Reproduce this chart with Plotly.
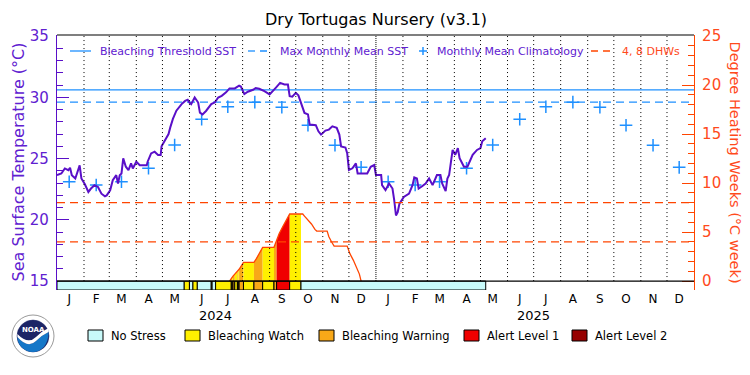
import plotly.graph_objects as go
import pandas as pd

# ---------------- data ----------------
sst_dates = [
    "2024-01-01", "2024-01-06", "2024-01-10", "2024-01-14", "2024-01-16", "2024-01-18", "2024-01-22",
    "2024-01-25", "2024-01-27", "2024-01-29", "2024-02-02", "2024-02-06", "2024-02-09", "2024-02-13",
    "2024-02-17", "2024-02-21", "2024-02-25", "2024-02-27", "2024-03-02", "2024-03-05", "2024-03-09",
    "2024-03-11", "2024-03-13", "2024-03-15", "2024-03-17", "2024-03-20", "2024-03-23", "2024-03-26",
    "2024-03-28", "2024-04-01", "2024-04-05", "2024-04-13", "2024-04-14", "2024-04-18", "2024-04-22",
    "2024-04-26", "2024-04-29", "2024-04-30", "2024-05-04", "2024-05-08", "2024-05-10", "2024-05-13",
    "2024-05-17", "2024-05-23", "2024-05-27", "2024-05-30", "2024-06-01", "2024-06-03", "2024-06-07",
    "2024-06-11", "2024-06-13", "2024-06-16", "2024-06-20", "2024-06-26", "2024-06-30", "2024-07-04",
    "2024-07-08", "2024-07-13", "2024-07-17", "2024-07-23", "2024-07-28", "2024-07-30", "2024-08-03",
    "2024-08-07", "2024-08-13", "2024-08-16", "2024-08-20", "2024-08-26", "2024-09-01", "2024-09-05",
    "2024-09-08", "2024-09-13", "2024-09-18", "2024-09-22", "2024-09-24", "2024-09-27", "2024-10-01",
    "2024-10-04", "2024-10-07", "2024-10-11", "2024-10-15", "2024-10-17", "2024-10-24", "2024-10-27",
    "2024-10-30", "2024-11-04", "2024-11-08", "2024-11-12", "2024-11-17", "2024-11-20", "2024-11-22",
    "2024-11-27", "2024-11-29", "2024-12-01", "2024-12-05", "2024-12-09", "2024-12-11", "2024-12-22",
    "2024-12-26", "2024-12-30", "2025-01-01", "2025-01-07", "2025-01-08", "2025-01-12", "2025-01-16",
    "2025-01-20", "2025-01-22", "2025-01-24", "2025-01-26", "2025-01-28", "2025-02-02", "2025-02-08",
    "2025-02-12", "2025-02-14", "2025-02-17", "2025-02-19", "2025-02-23", "2025-02-27", "2025-03-03",
    "2025-03-07", "2025-03-12", "2025-03-16", "2025-03-18", "2025-03-22", "2025-03-24", "2025-03-26",
    "2025-03-30", "2025-04-02", "2025-04-05", "2025-04-07", "2025-04-12", "2025-04-16", "2025-04-22",
    "2025-04-27", "2025-05-01", "2025-05-03", "2025-05-07",
]
sst_values = [
    23.64, 23.78, 24.19, 24.05, 24.24, 23.64, 23.37,
    24.05, 24.44, 23.37, 22.90, 22.27, 22.55, 22.82,
    22.68, 22.13, 21.91, 21.99, 22.41, 23.23, 23.64,
    22.96, 23.64, 23.78, 25.01, 24.33, 24.05, 24.60,
    24.19, 24.74, 24.46, 24.46, 24.74, 25.42, 25.56,
    25.29, 25.29, 26.00, 26.45, 27.00, 27.54, 28.23,
    28.90, 29.44, 29.70, 29.80, 29.57, 29.44, 29.98,
    29.57, 28.74, 28.60, 28.88, 29.44, 29.57, 29.98,
    30.12, 30.40, 30.72, 30.72, 30.94, 30.88, 30.26,
    30.45, 30.61, 30.75, 30.69, 30.50, 30.23, 30.50,
    30.77, 31.17, 31.04, 31.04, 30.09, 30.04, 30.36,
    30.15, 29.54, 28.72, 28.60, 27.77, 27.72, 27.22,
    26.95, 27.28, 27.36, 27.63, 27.50, 26.95, 25.99,
    25.90, 25.44, 24.07, 24.20, 24.60, 23.78, 23.78,
    24.33, 24.47, 23.65, 23.65, 22.83, 22.42, 22.96,
    22.55, 21.59, 20.35, 20.63, 21.32, 21.87, 22.14,
    22.83, 23.46, 23.37, 22.55, 22.74, 22.96, 23.37,
    22.83, 23.65, 23.65, 22.96, 22.34, 23.37, 23.65,
    25.70, 25.30, 25.85, 25.03, 24.33, 24.33, 25.30,
    25.70, 25.85, 26.40, 26.66,
]

clim_years = [2024, 2025]
clim_months = [1, 2, 3, 4, 5, 6, 7, 8, 9, 10, 11, 12]
clim_values = [23.11, 22.84, 23.11, 24.20, 26.10, 28.20, 29.23, 29.60, 29.18, 27.72, 26.08, 24.28]

mmm_sst = 29.60
threshold_sst = 30.60
dhw_levels = [4, 8]

dhw_dates = [
    "2024-07-17", "2024-07-19", "2024-07-20", "2024-07-21", "2024-07-23", "2024-07-26", "2024-07-27",
    "2024-07-28", "2024-08-02", "2024-08-14", "2024-08-17", "2024-08-20", "2024-08-24", "2024-09-06",
    "2024-09-09", "2024-09-12", "2024-09-16", "2024-09-20", "2024-09-24", "2024-10-07", "2024-10-09",
    "2024-10-11", "2024-10-15", "2024-10-19", "2024-10-23", "2024-10-25", "2024-11-06", "2024-11-08",
    "2024-11-11", "2024-11-14", "2024-11-29", "2024-12-02", "2024-12-06", "2024-12-10", "2024-12-13",
    "2024-12-15",
]
dhw_values = [
    0.00, 0.30, 0.40, 0.50, 0.70, 0.95, 1.05,
    1.20, 1.90, 1.90, 2.31, 2.82, 3.44, 3.44,
    4.12, 4.86, 5.54, 6.22, 6.84, 6.84, 6.84,
    6.63, 6.22, 5.82, 5.27, 5.10, 5.10, 4.52,
    4.01, 3.57, 3.57, 2.82, 2.14, 1.29, 0.71,
    0.00,
]

stress_start = [
    "2024-01-01", "2024-05-26", "2024-06-01", "2024-06-05", "2024-06-10", "2024-06-26", "2024-06-27",
    "2024-07-01", "2024-07-19", "2024-07-20", "2024-07-21", "2024-07-23", "2024-07-26", "2024-07-27",
    "2024-07-28", "2024-08-02", "2024-08-14", "2024-08-24", "2024-09-06", "2024-09-09", "2024-09-24",
    "2024-10-07",
]
stress_end = [
    "2024-05-26", "2024-06-01", "2024-06-05", "2024-06-10", "2024-06-26", "2024-06-27", "2024-07-01",
    "2024-07-19", "2024-07-20", "2024-07-21", "2024-07-23", "2024-07-26", "2024-07-27", "2024-07-28",
    "2024-08-02", "2024-08-14", "2024-08-24", "2024-09-06", "2024-09-09", "2024-09-24", "2024-10-07",
    "2025-05-07",
]
stress_level = [0, 1, 0, 1, 0, 1, 0, 1, 2, 1, 2, 1, 2, 1, 2, 1, 2, 1, 2, 3, 1, 0]

stress_labels = ["No Stress", "Bleaching Watch", "Bleaching Warning", "Alert Level 1", "Alert Level 2"]
month_letters = ["J", "F", "M", "A", "M", "J", "J", "A", "S", "O", "N", "D"]
year_labels = ["2024", "2025"]

# ---------------- styles ----------------
FONT = "DejaVu Sans"
PURPLE = "#5a0fc8"
PURPLE_TXT = "#6020d0"
BLUE = "#1e90ff"
ORANGE = "#ff4500"
ORANGE_TXT = "#ff4a1c"
STRESS_COLORS = ["#c8fafa", "#fff000", "#f8a818", "#f00000", "#960000"]

W, H = 750, 375
L, R, T, B = 57, 694, 35, 290
Y_LO, Y_HI = 14.27, 35.08
Y2_LO, Y2_HI = (Y_LO - 15) * 1.25, (Y_HI - 15) * 1.25


def px(x):
    return (x - L) / (R - L)


def py(y):
    return (B - y) / (B - T)


fig = go.Figure()

# DHW fills coloured by stress level
for s, e, lev in zip(stress_start, stress_end, stress_level):
    if lev == 0:
        continue
    s_t, e_t = pd.Timestamp(s), pd.Timestamp(e)
    xs = [d for d, v in zip(dhw_dates, dhw_values) if s_t <= pd.Timestamp(d) <= e_t]
    ys = [v for d, v in zip(dhw_dates, dhw_values) if s_t <= pd.Timestamp(d) <= e_t]
    if len(xs) < 2:
        continue
    fig.add_trace(go.Scatter(x=xs, y=ys, yaxis="y2", mode="lines", line=dict(width=0),
                             fill="tozeroy", fillcolor=STRESS_COLORS[lev], hoverinfo="skip",
                             showlegend=False))

# DHW line
fig.add_trace(go.Scatter(x=dhw_dates, y=dhw_values, yaxis="y2", mode="lines",
                         line=dict(color=ORANGE, width=1.3), showlegend=False))

# climatology
clim_x = [f"{yr}-{m:02d}-15" for yr in clim_years for m in clim_months]
clim_y = [v for yr in clim_years for v in clim_values]
fig.add_trace(go.Scatter(x=clim_x, y=clim_y, mode="markers",
                         marker=dict(symbol="cross-thin", size=9, line=dict(color=BLUE, width=1.5)),
                         showlegend=False))

# SST line
fig.add_trace(go.Scatter(x=sst_dates, y=sst_values, mode="lines",
                         line=dict(color=PURPLE, width=2), showlegend=False))

shapes = []
# month dotted lines
for d in pd.date_range("2024-02-01", "2025-12-01", freq="MS"):
    dense = (d.month == 1)
    shapes.append(dict(type="line", xref="x", yref="y", x0=d, x1=d, y0=15, y1=Y_HI,
                       line=dict(color="black", width=1, dash="1px,1px" if dense else "1px,3px"),
                       layer="above"))
# threshold / MMM
shapes.append(dict(type="line", xref="paper", yref="y", x0=0, x1=1, y0=threshold_sst, y1=threshold_sst,
                   line=dict(color=BLUE, width=1.3), layer="below"))
shapes.append(dict(type="line", xref="paper", yref="y", x0=0, x1=1, y0=mmm_sst, y1=mmm_sst,
                   line=dict(color=BLUE, width=1.3, dash="8px,5px"), layer="below"))
# DHW 4, 8
for lv in dhw_levels:
    shapes.append(dict(type="line", xref="paper", yref="y2", x0=0, x1=1, y0=lv, y1=lv,
                       line=dict(color=ORANGE, width=1.3, dash="8px,5px"), layer="above"))
# stress bar
for s, e, lev in zip(stress_start, stress_end, stress_level):
    shapes.append(dict(type="rect", xref="x", yref="y", x0=s, x1=e, y0=Y_LO, y1=15,
                       fillcolor=STRESS_COLORS[lev], line=dict(color="black", width=1), layer="above"))
# 15 line and top frame
shapes.append(dict(type="line", xref="paper", yref="y", x0=0, x1=1, y0=15, y1=15,
                   line=dict(color="black", width=1.2), layer="above"))
shapes.append(dict(type="line", xref="paper", yref="paper", x0=0, x1=1, y0=1, y1=1,
                   line=dict(color="black", width=1.2), layer="above"))

annotations = []
# title
annotations.append(dict(text="Dry Tortugas Nursery (v3.1)", x=0.5, y=py(20), xref="paper", yref="paper",
                        showarrow=False, font=dict(family=FONT, size=16, color="black"),
                        xanchor="center", yanchor="middle"))
# axis titles
annotations.append(dict(text="Sea Surface Temperature (°C)", x=px(18), y=0.5, xref="paper", yref="paper",
                        showarrow=False, textangle=-90, font=dict(family=FONT, size=16, color=PURPLE_TXT),
                        xanchor="center", yanchor="middle"))
annotations.append(dict(text="Degree Heating Weeks (°C week)", x=px(735), y=0.5, xref="paper", yref="paper",
                        showarrow=False, textangle=90, font=dict(family=FONT, size=14.5, color=ORANGE_TXT),
                        xanchor="center", yanchor="middle"))
# year labels
for yr in year_labels:
    annotations.append(dict(text=yr, x=f"{yr}-07-01", y=py(315), xref="x", yref="paper", showarrow=False,
                            font=dict(family=FONT, size=13, color="black"), xanchor="center", yanchor="middle"))

# top legend
LEG_Y = 51
shapes.append(dict(type="line", xref="paper", yref="paper", x0=px(70), x1=px(91), y0=py(LEG_Y), y1=py(LEG_Y),
                   line=dict(color=BLUE, width=1.3)))
shapes.append(dict(type="line", xref="paper", yref="paper", x0=px(248), x1=px(272), y0=py(LEG_Y), y1=py(LEG_Y),
                   line=dict(color=BLUE, width=1.3, dash="7px,5px")))
shapes.append(dict(type="line", xref="paper", yref="paper", x0=px(419), x1=px(427), y0=py(LEG_Y), y1=py(LEG_Y),
                   line=dict(color=BLUE, width=1.5)))
shapes.append(dict(type="line", xref="paper", yref="paper", x0=px(423), x1=px(423), y0=py(LEG_Y - 4), y1=py(LEG_Y + 4),
                   line=dict(color=BLUE, width=1.5)))
shapes.append(dict(type="line", xref="paper", yref="paper", x0=px(591), x1=px(614), y0=py(LEG_Y), y1=py(LEG_Y),
                   line=dict(color=ORANGE, width=1.3, dash="7px,5px")))
for txt, xx, col in [("Bleaching Threshold SST", 98, PURPLE_TXT), ("Max Monthly Mean SST", 278, PURPLE_TXT),
                     ("Monthly Mean Climatology", 435, PURPLE_TXT), ("4, 8 DHWs", 620, ORANGE_TXT)]:
    annotations.append(dict(text=txt, x=px(xx), y=py(LEG_Y), xref="paper", yref="paper", showarrow=False,
                            font=dict(family=FONT, size=11, color=col), xanchor="left", yanchor="middle"))

# bottom legend
box_x = [88, 185, 319, 464, 572]
for lab, bx, col in zip(stress_labels, box_x, STRESS_COLORS):
    shapes.append(dict(type="rect", xref="paper", yref="paper", x0=px(bx), x1=px(bx + 15), y0=py(330), y1=py(341),
                       fillcolor=col, line=dict(color="black", width=1)))
    annotations.append(dict(text=lab, x=px(bx + 21), y=py(336), xref="paper", yref="paper", showarrow=False,
                            font=dict(family=FONT, size=11.5, color="black"), xanchor="left", yanchor="middle"))

# NOAA logo (simple)
cx, cy = px(33), py(336)
logo = dict(xref="paper", yref="paper", xsizemode="pixel", ysizemode="pixel", xanchor=cx, yanchor=cy)
shapes.append(dict(type="circle", x0=-21, x1=21, y0=-21, y1=21, fillcolor="white",
                   line=dict(color="#9a9a9a", width=1), **logo))
shapes.append(dict(type="circle", x0=-16, x1=16, y0=-16, y1=16, fillcolor="#1c2466",
                   line=dict(color="#1c2466", width=0.5), **logo))
shapes.append(dict(type="path",
                   path="M -15.6,-1 Q -5,-13 3,-5 Q 9,1 15.6,4 C 15.6,-9 8,-16 0,-16 C -9,-16 -15.6,-9 -15.6,-1 Z",
                   fillcolor="#1577c8", line=dict(width=0), **logo))
shapes.append(dict(type="path",
                   path="M -15.6,2 Q -5,-9 3,-1 Q 9,5 15.6,8 L 15.6,4 Q 9,1 3,-5 Q -5,-13 -15.6,-1 Z",
                   fillcolor="white", line=dict(width=0), **logo))
annotations.append(dict(text="<b>NOAA</b>", x=cx, y=py(330), xref="paper", yref="paper", showarrow=False,
                        font=dict(family=FONT, size=7, color="white"), xanchor="center", yanchor="middle"))

tick_vals = [f"{yr}-{m:02d}-15" for yr in clim_years for m in clim_months]
tick_text = month_letters * len(clim_years)

fig.update_layout(
    width=W, height=H,
    margin=dict(l=L, r=W - R, t=T, b=H - B, pad=0, autoexpand=False),
    paper_bgcolor="white", plot_bgcolor="white",
    showlegend=False,
    shapes=shapes, annotations=annotations,
    xaxis=dict(type="date", range=["2024-01-01", "2026-01-01"], showgrid=False, zeroline=False,
               showline=False, ticks="", tickvals=tick_vals, ticktext=tick_text, tickangle=0,
               automargin=False, tickfont=dict(family=FONT, size=12, color="black")),
    yaxis=dict(range=[Y_LO, Y_HI], tick0=15, dtick=5, showgrid=False, zeroline=False, automargin=False,
               showline=True, linecolor=PURPLE, linewidth=1.2, ticks="inside", ticklen=12,
               tickcolor=PURPLE, tickwidth=1.2, ticklabelstandoff=4,
               tickfont=dict(family=FONT, size=15, color=PURPLE_TXT),
               minor=dict(ticks="inside", ticklen=6, dtick=1, tick0=15, tickcolor=PURPLE, tickwidth=1.2)),
    yaxis2=dict(range=[Y2_LO, Y2_HI], overlaying="y", side="right", tick0=0, dtick=5, showgrid=False,
                zeroline=False, showline=True, linecolor=ORANGE, linewidth=1.2, ticks="inside", ticklen=12,
                tickcolor=ORANGE, tickwidth=1.2, ticklabelstandoff=4, automargin=False,
                tickfont=dict(family=FONT, size=15, color=ORANGE_TXT),
                minor=dict(ticks="inside", ticklen=6, dtick=1, tick0=0, tickcolor=ORANGE, tickwidth=1.2)),
)

fig.write_html("out.html", config={"displayModeBar": False},
               post_script="document.body.style.margin='0';document.body.style.overflow='hidden';")
